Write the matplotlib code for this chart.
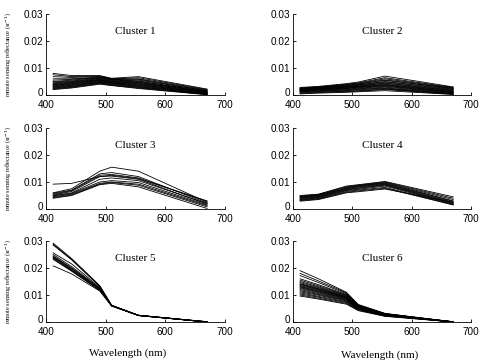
import matplotlib
matplotlib.use("Agg")
import matplotlib.pyplot as plt
from matplotlib.transforms import ScaledTranslation

# SeaWiFS band centres (nm)
wavelengths = [412, 443, 490, 510, 555, 670]

# Rrs spectra per cluster (sr^-1), one row per station
cluster1 = [
    [0.0080, 0.0072, 0.0072, 0.0062, 0.0068, 0.0022],
    [0.0075, 0.0068, 0.0070, 0.0060, 0.0064, 0.0020],
    [0.0068, 0.0065, 0.0068, 0.0058, 0.0060, 0.0018],
    [0.0060, 0.0060, 0.0066, 0.0060, 0.0058, 0.0015],
    [0.0055, 0.0058, 0.0065, 0.0058, 0.0055, 0.0016],
    [0.0050, 0.0055, 0.0064, 0.0057, 0.0052, 0.0012],
    [0.0048, 0.0052, 0.0062, 0.0056, 0.0050, 0.0014],
    [0.0045, 0.0050, 0.0060, 0.0054, 0.0048, 0.0010],
    [0.0042, 0.0048, 0.0058, 0.0052, 0.0046, 0.0012],
    [0.0040, 0.0046, 0.0057, 0.0050, 0.0044, 0.0008],
    [0.0038, 0.0044, 0.0055, 0.0050, 0.0042, 0.0010],
    [0.0036, 0.0042, 0.0054, 0.0048, 0.0040, 0.0006],
    [0.0034, 0.0040, 0.0052, 0.0046, 0.0038, 0.0008],
    [0.0032, 0.0038, 0.0050, 0.0045, 0.0036, 0.0005],
    [0.0030, 0.0036, 0.0049, 0.0043, 0.0034, 0.0006],
    [0.0028, 0.0034, 0.0047, 0.0042, 0.0032, 0.0003],
    [0.0026, 0.0032, 0.0046, 0.0040, 0.0030, 0.0004],
    [0.0024, 0.0030, 0.0044, 0.0038, 0.0028, 0.0002],
    [0.0022, 0.0028, 0.0042, 0.0036, 0.0026, 0.0002],
    [0.0020, 0.0026, 0.0040, 0.0035, 0.0024, 0.0001],
]

cluster2 = [
    [0.0028, 0.0032, 0.0042, 0.0048, 0.0070, 0.0030],
    [0.0026, 0.0030, 0.0040, 0.0045, 0.0064, 0.0028],
    [0.0025, 0.0029, 0.0038, 0.0043, 0.0060, 0.0026],
    [0.0024, 0.0028, 0.0036, 0.0041, 0.0056, 0.0025],
    [0.0023, 0.0027, 0.0035, 0.0040, 0.0054, 0.0024],
    [0.0022, 0.0026, 0.0033, 0.0038, 0.0050, 0.0022],
    [0.0021, 0.0025, 0.0032, 0.0036, 0.0048, 0.0020],
    [0.0020, 0.0024, 0.0030, 0.0034, 0.0045, 0.0018],
    [0.0019, 0.0023, 0.0029, 0.0033, 0.0043, 0.0016],
    [0.0018, 0.0022, 0.0028, 0.0032, 0.0040, 0.0015],
    [0.0017, 0.0021, 0.0026, 0.0030, 0.0038, 0.0013],
    [0.0016, 0.0020, 0.0025, 0.0029, 0.0036, 0.0012],
    [0.0015, 0.0019, 0.0024, 0.0027, 0.0034, 0.0010],
    [0.0014, 0.0018, 0.0022, 0.0025, 0.0032, 0.0009],
    [0.0013, 0.0016, 0.0020, 0.0023, 0.0029, 0.0008],
    [0.0012, 0.0015, 0.0018, 0.0021, 0.0026, 0.0006],
    [0.0010, 0.0013, 0.0016, 0.0019, 0.0024, 0.0005],
    [0.0008, 0.0011, 0.0014, 0.0016, 0.0022, 0.0004],
    [0.0006, 0.0009, 0.0012, 0.0014, 0.0020, 0.0003],
    [0.0004, 0.0007, 0.0010, 0.0012, 0.0016, 0.0002],
]

cluster3 = [
    [0.0092, 0.0095, 0.0120, 0.0125, 0.0112, 0.0030],
    [0.0060, 0.0075, 0.0140, 0.0155, 0.0140, 0.0025],
    [0.0058, 0.0070, 0.0130, 0.0135, 0.0120, 0.0022],
    [0.0055, 0.0068, 0.0125, 0.0128, 0.0115, 0.0028],
    [0.0052, 0.0065, 0.0120, 0.0122, 0.0110, 0.0018],
    [0.0050, 0.0060, 0.0110, 0.0115, 0.0105, 0.0020],
    [0.0048, 0.0058, 0.0100, 0.0105, 0.0098, 0.0015],
    [0.0045, 0.0055, 0.0095, 0.0100, 0.0092, 0.0012],
    [0.0042, 0.0052, 0.0092, 0.0098, 0.0088, 0.0008],
    [0.0040, 0.0050, 0.0090, 0.0095, 0.0082, 0.0002],
]

cluster4 = [
    [0.0050, 0.0055, 0.0085, 0.0090, 0.0102, 0.0045],
    [0.0048, 0.0054, 0.0082, 0.0088, 0.0100, 0.0040],
    [0.0046, 0.0052, 0.0080, 0.0086, 0.0098, 0.0035],
    [0.0045, 0.0050, 0.0078, 0.0085, 0.0096, 0.0030],
    [0.0043, 0.0049, 0.0076, 0.0083, 0.0094, 0.0028],
    [0.0041, 0.0047, 0.0074, 0.0081, 0.0092, 0.0025],
    [0.0039, 0.0045, 0.0072, 0.0078, 0.0090, 0.0022],
    [0.0037, 0.0043, 0.0070, 0.0076, 0.0088, 0.0020],
    [0.0035, 0.0041, 0.0068, 0.0073, 0.0085, 0.0018],
    [0.0033, 0.0039, 0.0065, 0.0070, 0.0080, 0.0016],
    [0.0031, 0.0037, 0.0062, 0.0067, 0.0077, 0.0015],
    [0.0029, 0.0035, 0.0060, 0.0064, 0.0074, 0.0025],
]

cluster5 = [
    [0.0292, 0.0235, 0.0135, 0.0062, 0.0025, 0.0000],
    [0.0288, 0.0232, 0.0133, 0.0061, 0.0025, 0.0001],
    [0.0285, 0.0230, 0.0132, 0.0062, 0.0024, 0.0000],
    [0.0256, 0.0215, 0.0128, 0.0060, 0.0024, 0.0001],
    [0.0250, 0.0205, 0.0126, 0.0061, 0.0025, 0.0000],
    [0.0245, 0.0200, 0.0124, 0.0060, 0.0024, 0.0000],
    [0.0242, 0.0198, 0.0123, 0.0060, 0.0025, 0.0001],
    [0.0240, 0.0195, 0.0122, 0.0061, 0.0024, 0.0000],
    [0.0238, 0.0192, 0.0120, 0.0060, 0.0024, 0.0000],
    [0.0235, 0.0190, 0.0118, 0.0060, 0.0025, 0.0000],
    [0.0232, 0.0188, 0.0117, 0.0059, 0.0024, 0.0001],
    [0.0208, 0.0178, 0.0115, 0.0060, 0.0024, 0.0000],
]

cluster6 = [
    [0.0190, 0.0160, 0.0110, 0.0065, 0.0032, 0.0000],
    [0.0180, 0.0152, 0.0108, 0.0063, 0.0031, 0.0001],
    [0.0172, 0.0146, 0.0105, 0.0062, 0.0031, 0.0000],
    [0.0160, 0.0138, 0.0102, 0.0060, 0.0030, 0.0000],
    [0.0155, 0.0134, 0.0100, 0.0059, 0.0030, 0.0001],
    [0.0150, 0.0130, 0.0098, 0.0058, 0.0029, 0.0000],
    [0.0146, 0.0127, 0.0096, 0.0057, 0.0029, 0.0000],
    [0.0142, 0.0124, 0.0094, 0.0056, 0.0028, 0.0001],
    [0.0140, 0.0122, 0.0093, 0.0056, 0.0028, 0.0000],
    [0.0138, 0.0120, 0.0092, 0.0055, 0.0028, 0.0000],
    [0.0135, 0.0118, 0.0090, 0.0054, 0.0027, 0.0000],
    [0.0132, 0.0115, 0.0089, 0.0054, 0.0027, 0.0001],
    [0.0130, 0.0113, 0.0088, 0.0053, 0.0027, 0.0000],
    [0.0127, 0.0111, 0.0086, 0.0052, 0.0026, 0.0000],
    [0.0124, 0.0108, 0.0084, 0.0051, 0.0026, 0.0000],
    [0.0120, 0.0105, 0.0082, 0.0050, 0.0025, 0.0001],
    [0.0116, 0.0102, 0.0080, 0.0049, 0.0025, 0.0000],
    [0.0112, 0.0099, 0.0078, 0.0048, 0.0024, 0.0000],
    [0.0108, 0.0095, 0.0075, 0.0047, 0.0024, 0.0000],
    [0.0104, 0.0092, 0.0072, 0.0046, 0.0023, 0.0001],
    [0.0100, 0.0088, 0.0069, 0.0044, 0.0022, 0.0000],
    [0.0096, 0.0085, 0.0066, 0.0042, 0.0021, 0.0000],
]

clusters = [cluster1, cluster2, cluster3, cluster4, cluster5, cluster6]
titles = ["Cluster %d" % (i + 1) for i in range(6)]
xticks = [400, 500, 600, 700]
yticks = [0, 0.01, 0.02, 0.03]
ytick_labels = ["0", "0.01", "0.02", "0.03"]

SANS = "Liberation Sans"
SERIF = "Liberation Serif"

fig = plt.figure(figsize=(4.81, 3.64), dpi=100)

# axes boxes in figure fractions: [left, bottom, width, height]
col_x = [(46 / 481, 179 / 481), (293 / 481, 178 / 481)]
row_y = [1 - 95 / 364, 1 - 209 / 364, 1 - 322 / 364]
row_h = 81 / 364

for i, spectra in enumerate(clusters):
    r, c = divmod(i, 2)
    x0, w = col_x[c]
    ax = fig.add_axes([x0, row_y[r], w, row_h])
    for s in spectra:
        ax.plot(wavelengths, s, color="black", linewidth=0.6)

    ax.set_xlim(400, 700)
    ax.set_ylim(0, 0.03)
    ax.set_xticks(xticks)
    ax.set_yticks(yticks)
    ax.set_yticklabels(ytick_labels)
    for lab in ax.get_xticklabels() + ax.get_yticklabels():
        lab.set_fontfamily(SANS)
        lab.set_fontsize(7.2)
    ax.tick_params(axis="both", direction="in", length=2, width=0.6)
    ax.tick_params(axis="x", pad=3.5)
    ax.tick_params(axis="y", pad=2)
    # lift the "0" label a touch so it clears the "400" below it
    zero = ax.get_yticklabels()[0]
    zero.set_transform(zero.get_transform() +
                       ScaledTranslation(0, 2 / 72, fig.dpi_scale_trans))
    ax.spines["top"].set_visible(False)
    ax.spines["right"].set_visible(False)
    ax.spines["left"].set_linewidth(0.6)
    ax.spines["bottom"].set_linewidth(0.6)

    ax.text(550, 0.0235, titles[i], ha="center", va="center",
            family=SERIF, fontsize=8)

    if c == 0:
        ax.text(-0.21, 0.5, "remote sensing reflectance (sr$^{-1}$)",
                transform=ax.transAxes, rotation=90, ha="center", va="center",
                family=SERIF, fontsize=4.5)

fig.text(128 / 481, 1 - 353 / 364, "Wavelength (nm)", ha="center", va="center",
         family=SERIF, fontsize=8)
fig.text(380 / 481, 1 - 355 / 364, "Wavelength (nm)", ha="center", va="center",
         family=SERIF, fontsize=8)

fig.savefig("out.png", dpi=100, facecolor="white")
